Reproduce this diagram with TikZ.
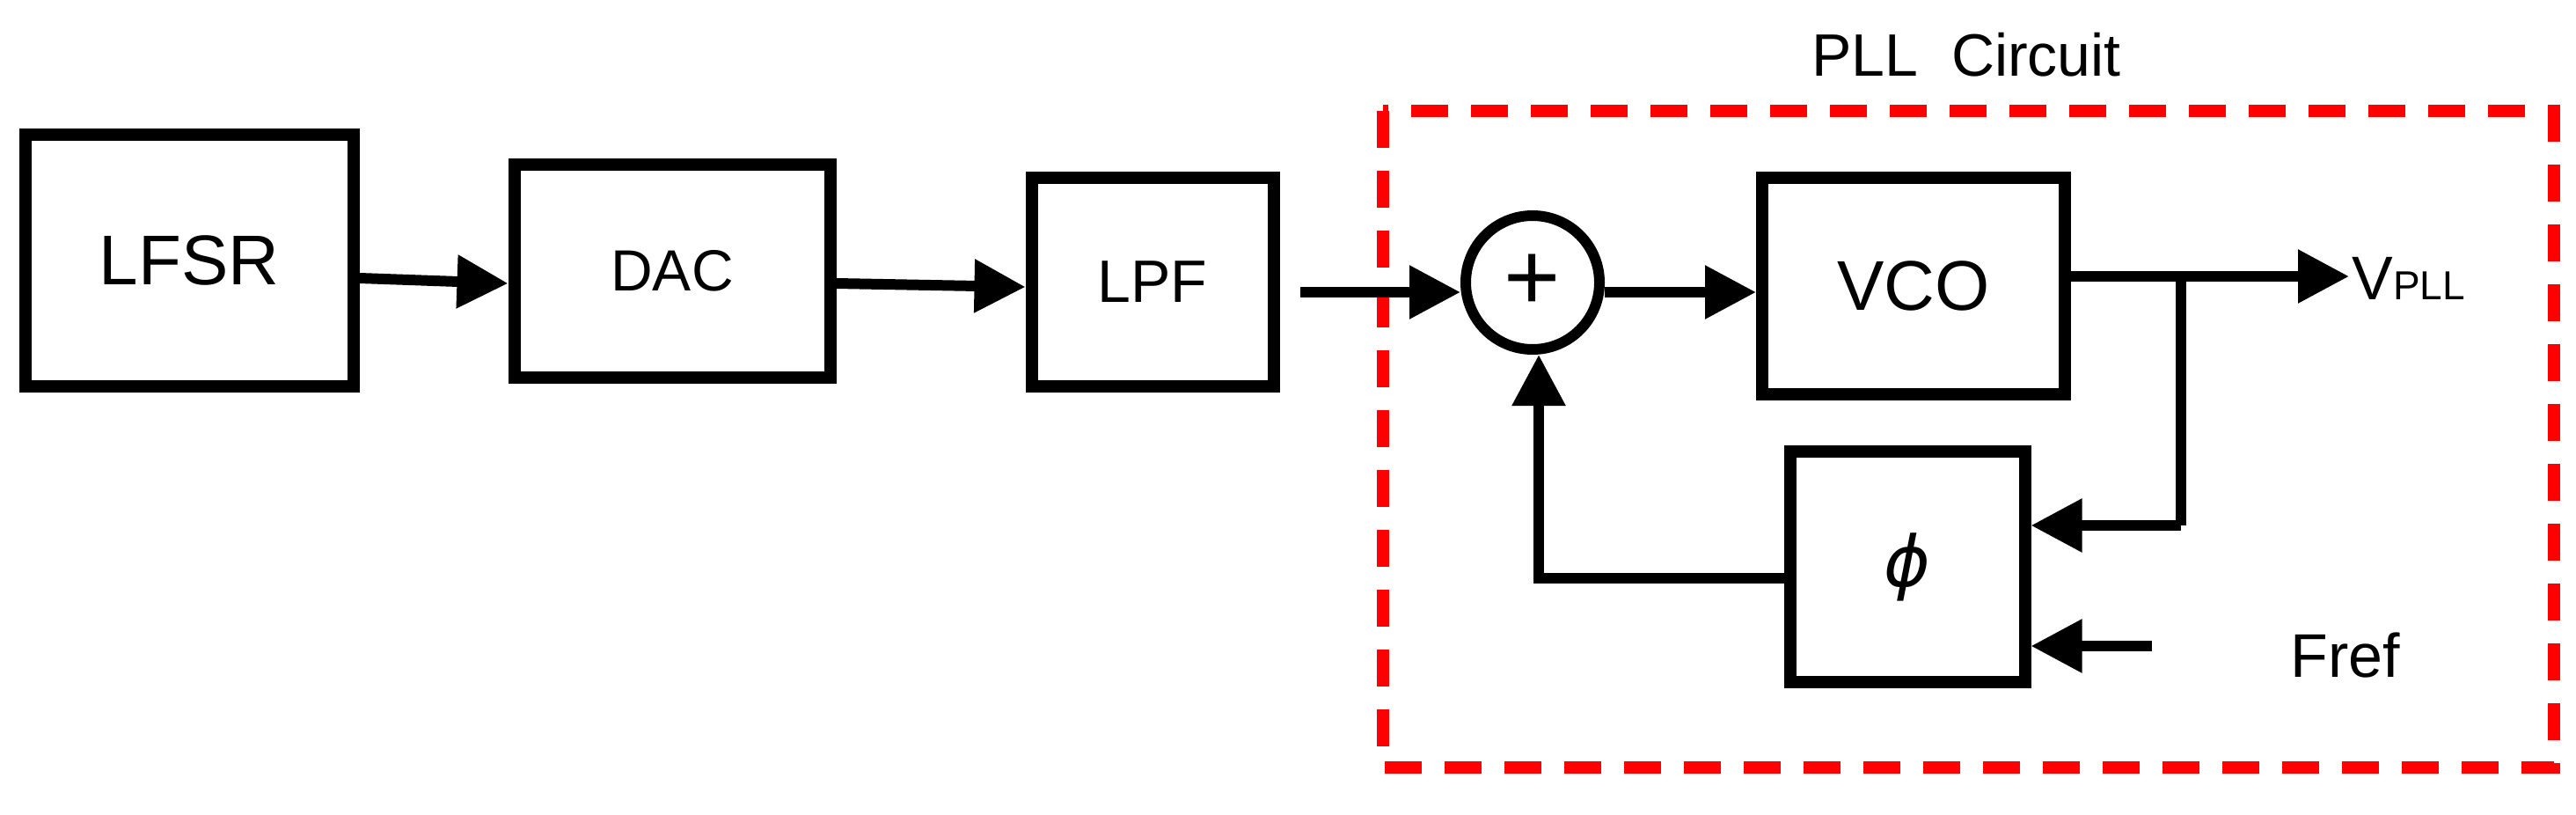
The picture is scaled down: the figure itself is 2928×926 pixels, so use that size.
\documentclass[tikz,border=0pt]{standalone}
\usepackage{fontspec}
\setmainfont{Liberation Sans}
\newfontfamily\djv{DejaVu Sans}
\usetikzlibrary{arrows.meta}
\begin{document}
\begin{tikzpicture}[x=1pt,y=-1pt,
  blk/.style={draw,line width=14pt,minimum width=#1,inner sep=0pt},
  ar/.style={line width=12pt,-{Triangle[length=58pt,width=58pt]}},
  ln/.style={line width=12pt},
  fs/.style={font=\fontsize{#1}{#1}\selectfont}]
\useasboundingbox (0,0) rectangle (2928,926);
\node[blk=373pt,minimum height=286pt,fs=80] (lfsr) at (215,296) {LFSR};
\node[blk=359pt,minimum height=242pt,fs=66] (dac) at (764,308) {DAC};
\node[blk=275pt,minimum height=237pt,fs=68] (lpf) at (1310,320) {LPF};
\node[blk=344pt,minimum height=246pt,fs=80] (vco) at (2175,325) {VCO};
\node[blk=267pt,minimum height=262pt,fs=80] (phi) at (2168,644) {\djv\itshape ϕ};
\node[draw,circle,line width=12pt,minimum size=152pt,inner sep=0pt,fs=110] (sum) at (1742,321) {+};
\draw[red,line width=14pt,dash pattern=on 42pt off 26pt] (1572,126) rectangle (2903,872);
\node[fs=68] (title) at (2235,62) {PLL\ \ Circuit};
\node[fs=70,anchor=west] (vpll) at (2670,316) {V\fontsize{46}{46}\selectfont PLL};
\node[fs=70,anchor=west] (fref) at (2600,745) {Fref};
\coordinate (br) at (2479,314);
\coordinate (lpo) at (1478,332);
\coordinate (fs0) at (2446,734);
\coordinate (fb) at (1749,657);
\draw[ar] (lfsr.east |- 0,316) -- (dac.west |- 0,322);
\draw[ar] (dac.east |- 0,322) -- (lpf.west |- 0,326);
\draw[ar] (lpo) -- (sum.west |- lpo);
\draw[ar] (sum.east |- 0,332) -- (vco.west |- 0,332);
\draw[ar] (vco.east |- br) -- (vpll.west |- br);
\draw[ln] (br) -- (br |- 0,597);
\draw[ar] (br |- 0,597) -- (phi.east |- 0,597);
\draw[ar] (fs0) -- (phi.east |- fs0);
\draw[ar] (phi.west |- fb) -- (fb) -- (sum.south -| fb);
\end{tikzpicture}
\end{document}
